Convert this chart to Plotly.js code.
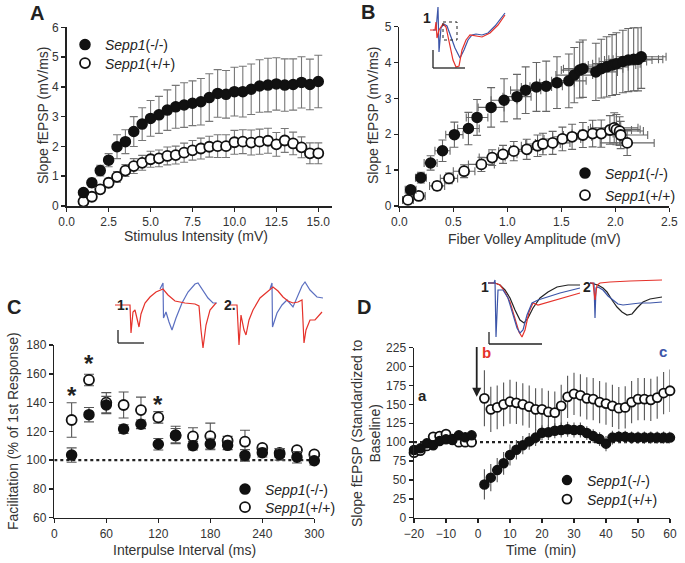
<!DOCTYPE html>
<html>
<head>
<meta charset="utf-8">
<script src="https://cdn.plot.ly/plotly-3.0.1.min.js"></script>
<style>
  html, body { margin: 0; padding: 0; background: #fff; }
  #plot { width: 685px; height: 563px; }
</style>
</head>
<body>
<div id="plot"></div>
<script>
// ---- A: input/output vs stimulus intensity ----
const aStim = [1,1.5,2,2.5,3,3.5,4,4.5,5,5.5,6,6.5,7,7.5,8,8.5,9,9.5,10,10.5,11,11.5,12,12.5,13,13.5,14,14.5,15];
const aKO = [0.45,0.78,1.19,1.54,1.99,2.16,2.5,2.75,2.94,3.06,3.22,3.33,3.39,3.45,3.5,3.64,3.78,3.75,3.84,3.84,3.92,4.03,4.06,4.1,4.06,4.08,4.15,4.08,4.18];
const aKOerr = [0.1,0.15,0.18,0.22,0.4,0.4,0.5,0.55,0.6,0.62,0.68,0.72,0.75,0.75,0.78,0.8,0.8,0.8,0.82,0.85,0.85,0.88,0.9,0.88,0.88,0.86,0.86,0.85,0.88];
const aWT = [0.15,0.31,0.56,0.78,0.98,1.19,1.34,1.45,1.57,1.6,1.68,1.71,1.79,1.87,1.93,1.99,2.01,2.01,2.14,2.16,2.13,2.16,2.19,2.07,2.2,2.1,1.97,1.77,1.77];
const aWTerr = [0.08,0.1,0.12,0.15,0.18,0.2,0.25,0.25,0.27,0.28,0.3,0.3,0.32,0.33,0.35,0.35,0.38,0.38,0.4,0.4,0.42,0.42,0.42,0.4,0.4,0.38,0.35,0.35,0.35];

// ---- B: slope vs fiber volley ----
const bKOx = [0.105,0.2,0.29,0.4,0.51,0.64,0.72,0.85,0.97,1.09,1.17,1.27,1.36,1.46,1.57,1.62,1.67,1.70,1.82,1.87,1.92,1.97,2.01,2.07,2.12,2.17,2.21,2.24];
const bKOy = [0.45,0.79,1.2,1.54,1.99,2.16,2.47,2.75,2.95,3.05,3.23,3.32,3.34,3.44,3.49,3.65,3.79,3.83,3.74,3.83,3.88,3.93,3.97,4.03,4.07,4.09,4.09,4.16];
const bKOxerr = [0.05,0.05,0.06,0.07,0.08,0.1,0.1,0.12,0.12,0.13,0.14,0.14,0.15,0.16,0.16,0.17,0.17,0.18,0.2,0.2,0.2,0.22,0.22,0.22,0.22,0.23,0.23,0.23];
const bKOyerr = [0.1,0.15,0.2,0.3,0.35,0.45,0.5,0.55,0.6,0.62,0.65,0.68,0.7,0.72,0.75,0.77,0.78,0.8,0.8,0.82,0.84,0.85,0.86,0.87,0.88,0.88,0.88,0.88];
const bWTx = [0.08,0.18,0.35,0.46,0.6,0.76,0.86,0.96,1.06,1.18,1.28,1.33,1.42,1.51,1.6,1.70,1.79,1.87,1.95,1.99,2.01,2.04,2.05,2.11];
const bWTy = [0.17,0.28,0.56,0.77,0.97,1.16,1.35,1.44,1.53,1.58,1.68,1.73,1.76,1.87,1.93,1.98,2.02,2.02,2.12,2.18,2.13,2.09,1.98,1.76];
const bWTxerr = [0.05,0.06,0.07,0.08,0.1,0.12,0.12,0.13,0.14,0.15,0.15,0.16,0.16,0.17,0.18,0.18,0.19,0.2,0.2,0.22,0.22,0.22,0.25,0.25];
const bWTyerr = [0.08,0.1,0.12,0.15,0.18,0.2,0.22,0.25,0.27,0.28,0.3,0.3,0.32,0.33,0.35,0.35,0.37,0.38,0.4,0.42,0.42,0.4,0.38,0.35];

// ---- C: paired pulse facilitation ----
const cIPI = [20,40,60,80,100,120,140,160,180,200,220,240,260,280,300];
const cKO = [103.5,131.6,138.3,121.6,124.9,111,117.5,110,111.2,110.3,103.3,105.2,104,102,99.6];
const cKOerr = [5,5,6,3,3,4,6,3,4,3,4,3,4,4,3];
const cWT = [127.9,155.7,139.9,138.3,134.8,129.7,117,116.5,116.7,113.5,112.8,108.5,105,107,104];
const cWTerr = [12,4,7,9,9,4,5,6,9,3,8,2,3,2,2];

// ---- D: LTP time course ----
const dTime = [-20,-18,-16,-14,-12,-10,-8,-6,-4,-2,2,4,6,8,10,12,14,16,18,20,22,24,26,28,30,32,34,36,38,40,42,44,46,48,50,52,54,56,58,60];
const dKO = [89.6,91.8,98.4,96,101.5,103.7,102.8,109,106.4,109,
  44,53,63,72,83,90,96,101,106,112.5,113,115,116,117,116,116,112,108,104,98,106,107,107,106,106,106,106,106,106,106];
const dKOerr = [5,5,5,5,5,5,5,5,5,5,
  20,18,16,15,14,13,12,11,11,10,10,10,10,10,10,10,9,9,9,10,9,8,8,8,8,8,8,8,8,8];
const dWT = [86,88.7,95,107,108,110.7,104,100,100,100,
  158,143.4,146,150,153.5,152,150,147,143.4,143.4,140,139,148,160,164,162,158,157,153,151,148,145,146,153,157,157,156,159,165,168];
const dWTerr = [5,5,5,5,5,5,5,5,5,5,
  37,30,29,29,29,28,28,28,28,28,28,28,28,28,28,28,28,28,28,28,28,28,28,28,28,28,28,28,28,28];

// ---- sample waveforms (inset traces, page-pixel units) ----
const wB_blue_x = [433,436,438,439,441,444,447,450,455,460,464,468,472,476,482,488,495,505];
const wB_blue_y = [30,30,7,52,28,24,26,35,48,58,50,40,35,34,35,33,26,13];
const wB_red_x = [430,435,436,437,439,443,446,449,453,456,459,462,466,470,475,482,490,498,505];
const wB_red_y = [30,30,22,38,30,24,27,40,60,67,66,50,40,35,36,37,33,25,15];

const wC1_red_x = [115,130,131,133,135,137,139,141,145,150,156,163,168,175,185,195,199,201,203,206,210,216];
const wC1_red_y = [305,305,333,312,310,318,327,314,303,297,292,289,295,301,303,304,306,330,348,325,310,303];
const wC1_blue_x = [160,163,163.5,166,169,172,176,182,188,195,198,203,208,213,217];
const wC1_blue_y = [289,283,318,312,322,330,318,303,292,284,283,290,298,303,303];
const wC2_red_x = [227,237,239,241,244,246,249,253,260,267,273,278,283,288,293,298,302,304,306,310,315,322];
const wC2_red_y = [305,305,345,315,330,335,320,310,298,292,287,291,297,301,303,302,300,343,330,320,320,312];
const wC2_blue_x = [270,272,272.5,275,277,282,287,293,298,302,305,310,317,323];
const wC2_blue_y = [289,283,327,318,313,305,300,307,296,286,282,290,297,298];

const wD1_black_x = [488,495,500,505,510,515,520,524,528,533,540,548,557,568,580];
const wD1_black_y = [283,283,285,290,298,310,320,323,318,308,298,292,287,285,285];
const wD1_red_x = [488,495,500,505,510,515,519,522,525,529,533,538,545,555,568,580];
const wD1_red_y = [283,283,285,292,302,318,332,337,330,312,303,305,303,300,297,293];
const wD1_blue_x = [488,494,495,496,498,503,508,513,517,520,523,527,532,538,547,560,580];
const wD1_blue_y = [283,283,280,337,290,290,298,315,328,333,330,315,303,300,297,293,288];
const wD2_black_x = [590,598,603,607,612,617,622,627,632,637,643,650,662];
const wD2_black_y = [283,285,288,292,300,307,312,315,314,308,302,299,297];
const wD2_blue_x = [590,594,595,596,598,603,608,613,618,623,630,640,650,662];
const wD2_blue_y = [283,283,318,288,287,290,296,300,304,305,304,303,303,302];
const wD2_red_x = [590,593,595,597,600,610,630,662];
const wD2_red_y = [283,283,300,285,283,282,281,280];

const W = 685, H = 563;
const FONT = 'Liberation Sans, Arial, sans-serif';
const RED = '#e5322b', BLUE = '#3c55a8', BLUE_LT = '#5b6fc0';
const KO_NAME = '<i>Sepp1</i>(-/-)', WT_NAME = '<i>Sepp1</i>(+/+)';

const px = v => v / W;
const py = v => 1 - v / H;

function mk(open, size) {
  return open
    ? { symbol: 'circle', size: size, color: '#ffffff', line: { color: '#111', width: 1.8 } }
    : { symbol: 'circle', size: size, color: '#111111', line: { color: '#111', width: 1.5 } };
}
function err(arr, col, w) {
  return { type: 'data', array: arr, visible: true, color: col, thickness: 1.1, width: w };
}

const traces = [];
function pair(xa, ya, legWT, legKO, wt, ko, size) {
  traces.push(Object.assign({ type: 'scatter', mode: 'markers', xaxis: xa, yaxis: ya, legend: legWT,
    name: WT_NAME, marker: mk(true, size), hoverinfo: 'skip', cliponaxis: false }, wt));
  traces.push(Object.assign({ type: 'scatter', mode: 'markers', xaxis: xa, yaxis: ya, legend: legKO,
    name: KO_NAME, marker: mk(false, size), hoverinfo: 'skip', cliponaxis: false }, ko));
}

pair('x', 'y', 'legend2', 'legend',
  { x: aStim, y: aWT, error_y: err(aWTerr, '#777', 4) },
  { x: aStim, y: aKO, error_y: err(aKOerr, '#777', 4) }, 10);
pair('x2', 'y2', 'legend4', 'legend3',
  { x: bWTx, y: bWTy, error_y: err(bWTyerr, '#666', 4), error_x: err(bWTxerr, '#666', 4) },
  { x: bKOx, y: bKOy, error_y: err(bKOyerr, '#666', 4), error_x: err(bKOxerr, '#666', 4) }, 10);
pair('x3', 'y3', 'legend6', 'legend5',
  { x: cIPI, y: cWT, error_y: err(cWTerr, '#555', 5) },
  { x: cIPI, y: cKO, error_y: err(cKOerr, '#555', 5) }, 10);
pair('x4', 'y4', 'legend8', 'legend7',
  { x: dTime, y: dWT, error_y: err(dWTerr, '#555', 0) },
  { x: dTime, y: dKO, error_y: err(dKOerr, '#555', 0) }, 9);

function wave(x, y, col, w) {
  traces.push({ type: 'scatter', mode: 'lines', x: x, y: y, xaxis: 'x5', yaxis: 'y5',
    line: { color: col, width: w || 1.2 }, showlegend: false, hoverinfo: 'skip' });
}
wave(wB_blue_x, wB_blue_y, BLUE);
wave(wB_red_x, wB_red_y, RED);
wave(wC1_blue_x, wC1_blue_y, BLUE_LT);
wave(wC1_red_x, wC1_red_y, RED);
wave(wC2_blue_x, wC2_blue_y, BLUE_LT);
wave(wC2_red_x, wC2_red_y, RED);
wave(wD1_black_x, wD1_black_y, '#222');
wave(wD1_red_x, wD1_red_y, RED);
wave(wD1_blue_x, wD1_blue_y, BLUE);
wave(wD2_black_x, wD2_black_y, '#222');
wave(wD2_blue_x, wD2_blue_y, BLUE);
wave(wD2_red_x, wD2_red_y, RED);

function ax(d, range, tickvals, fmt, anchor) {
  return { domain: d, range: range, anchor: anchor, tickvals: tickvals, tickformat: fmt,
    showline: true, linecolor: '#222', linewidth: 1.5, ticks: 'outside', ticklen: 4, tickwidth: 1.5,
    tickcolor: '#222', showgrid: false, zeroline: false, fixedrange: true,
    tickfont: { family: FONT, size: 12, color: '#333' }, automargin: false };
}

// one legend per item, placed by its marker centre (page pixels)
function leg(mx, my) {
  return { x: px(mx - 20), y: py(my - 14.5), xanchor: 'left', yanchor: 'top', bgcolor: 'rgba(0,0,0,0)',
    font: { family: FONT, size: 14, color: '#222' }, itemclick: false };
}

function title(text, x, y, rot) {
  return { text: text, x: px(x), y: py(y), xref: 'paper', yref: 'paper', showarrow: false,
    textangle: rot ? -90 : 0, xanchor: 'center', yanchor: 'middle',
    font: { family: FONT, size: 14, color: '#333' } };
}
function letter(text, x, y) {
  return { text: '<b>' + text + '</b>', x: px(x), y: py(y), xref: 'paper', yref: 'paper', showarrow: false,
    xanchor: 'center', yanchor: 'middle', font: { family: FONT, size: 20, color: '#222' } };
}
function lbl(text, x, y, col, size) {
  return { text: '<b>' + text + '</b>', x: px(x), y: py(y), xref: 'paper', yref: 'paper', showarrow: false,
    xanchor: 'center', yanchor: 'middle', font: { family: FONT, size: size || 14, color: col || '#222' } };
}
function star(x, y) {
  return { text: '<b>*</b>', x: x, y: y, xref: 'x3', yref: 'y3', showarrow: false,
    xanchor: 'center', yanchor: 'middle', font: { family: FONT, size: 24, color: '#222' } };
}
function bar(x0, y0, x1, y1, dash) {
  return { type: 'line', xref: 'x5', yref: 'y5', x0: x0, y0: y0, x1: x1, y1: y1,
    line: { color: '#222', width: 1.3, dash: dash || 'solid' } };
}

const layout = {
  width: W, height: H,
  margin: { l: 0, r: 0, t: 0, b: 0 },
  paper_bgcolor: '#fff', plot_bgcolor: 'rgba(0,0,0,0)',
  font: { family: FONT },
  xaxis: ax([px(66.7), px(331.7)], [0, 15.8], [0, 2.5, 5, 7.5, 10, 12.5, 15], '.1f', 'y'),
  yaxis: ax([py(206), py(27.3)], [0, 6], [0, 1, 2, 3, 4, 5, 6], '', 'x'),
  xaxis2: ax([px(399.3), px(669.3)], [0, 2.5], [0, 0.5, 1, 1.5, 2, 2.5], '.1f', 'y2'),
  yaxis2: ax([py(206), py(26.7)], [0, 5], [0, 1, 2, 3, 4, 5], '', 'x2'),
  xaxis3: ax([px(54.3), px(314.3)], [0, 300], [0, 60, 120, 180, 240, 300], '', 'y3'),
  yaxis3: ax([py(517.7), py(345)], [60, 180], [60, 80, 100, 120, 140, 160, 180], '', 'x3'),
  xaxis4: ax([px(414), px(670)], [-20, 60], [-20, -10, 0, 10, 20, 30, 40, 50, 60], '', 'y4'),
  yaxis4: ax([py(517.7), py(347.7)], [0, 225], [0, 25, 50, 75, 100, 125, 150, 175, 200, 225], '', 'x4'),
  xaxis5: { domain: [0, 1], range: [0, W], visible: false, fixedrange: true, anchor: 'y5' },
  yaxis5: { domain: [0, 1], range: [H, 0], visible: false, fixedrange: true, anchor: 'x5' },
  legend: leg(85, 43.5), legend2: leg(85, 62),
  legend3: leg(585, 172), legend4: leg(585, 194),
  legend5: leg(245, 488), legend6: leg(245, 506),
  legend7: leg(567, 479), legend8: leg(567, 498),
  shapes: [
    { type: 'line', xref: 'x3', yref: 'y3', x0: 0, x1: 300, y0: 100, y1: 100, layer: 'below',
      line: { color: '#222', width: 2.2, dash: 'dot' } },
    { type: 'line', xref: 'x4', yref: 'y4', x0: -20, x1: 60, y0: 100, y1: 100, layer: 'below',
      line: { color: '#222', width: 2.2, dash: 'dot' } },
    // scale bars and zoom box of the insets
    bar(433, 50, 433, 68), bar(433, 68, 465, 68),
    { type: 'rect', xref: 'x5', yref: 'y5', x0: 443, x1: 457, y0: 22, y1: 40,
      line: { color: '#222', width: 1, dash: 'dot' } },
    bar(118, 330, 118, 343), bar(118, 343, 144, 343),
    bar(489, 332, 489, 344), bar(489, 344, 542, 344)
  ],
  annotations: [
    letter('A', 37, 13), letter('B', 368, 12), letter('C', 14, 307), letter('D', 364, 307),
    title('Stimulus Intensity (mV)', 196, 236),
    title('Slope fEPSP (mV/ms)', 43, 116, true),
    title('Fiber Volley Amplitude (mV)', 534, 239),
    title('Slope fEPSP (mV/ms)', 373, 116, true),
    title('Interpulse Interval (ms)', 184, 550),
    title('Facilitation (% of 1st Response)', 13, 431, true),
    title('Time  (min)', 541, 550),
    title('Slope fEPSP (Standardized to<br>Baseline)', 366, 433, true),
    star(20, 145), star(40, 167), star(120, 139),
    { text: '<b>a</b>', x: -17.3, y: 162, xref: 'x4', yref: 'y4', showarrow: false,
      font: { family: FONT, size: 15, color: '#222' } },
    { text: '<b>b</b>', x: 2.7, y: 218, xref: 'x4', yref: 'y4', showarrow: false,
      font: { family: FONT, size: 15, color: RED } },
    { text: '<b>c</b>', x: 57.7, y: 220, xref: 'x4', yref: 'y4', showarrow: false,
      font: { family: FONT, size: 15, color: BLUE } },
    { text: '', x: -0.4, y: 160, xref: 'x4', yref: 'y4', ax: -0.4, ay: 228, axref: 'x4', ayref: 'y4',
      showarrow: true, arrowhead: 2, arrowsize: 1, arrowwidth: 1.8, arrowcolor: '#222' },
    lbl('1', 427, 18), lbl('1.', 123, 305), lbl('2.', 230, 305), lbl('1', 485, 287), lbl('2', 587, 287)
  ]
};

Plotly.newPlot('plot', traces, layout, { staticPlot: true, displayModeBar: false });
</script>
</body>
</html>
